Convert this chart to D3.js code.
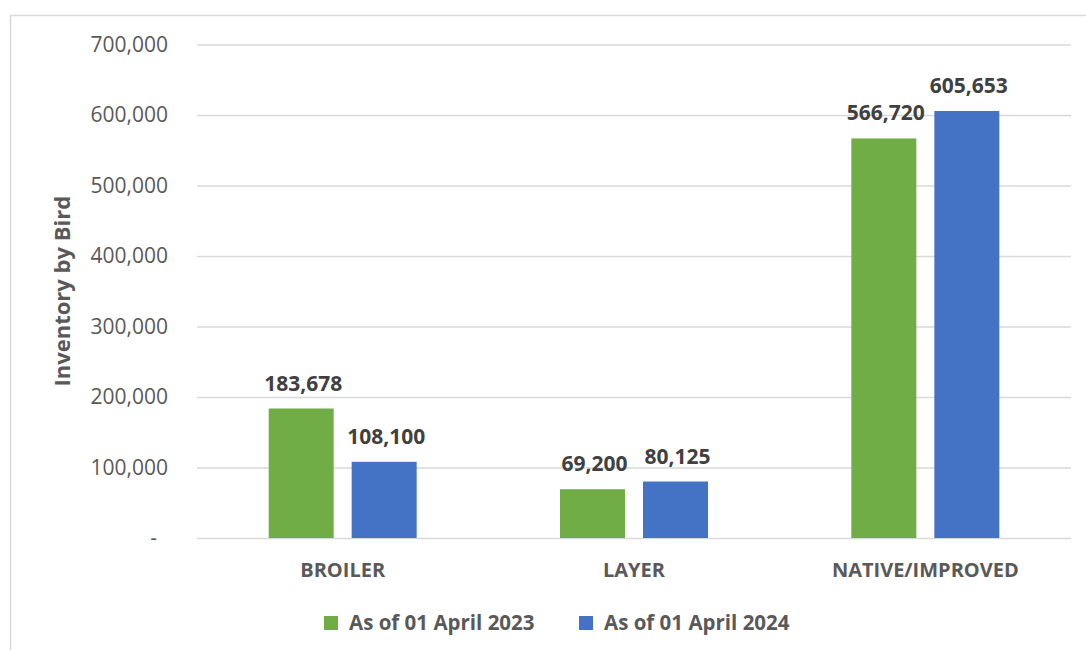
<!DOCTYPE html>
<html lang="en">
<head>
    <meta charset="utf-8">
    <title>Inventory by Bird</title>
    <script src="https://d3js.org/d3.v7.min.js"></script>
    <style>
        body{
            margin: 0;
            background: #fff;
        }
        svg{
            display: block;
            font-family: "Open Sans", sans-serif;
        }
        .tick text{
            fill: #595959;
            font-family: "Open Sans", sans-serif;
            font-size: 21px;
        }
        .tick line{
            stroke: #d9d9d9;
            stroke-width: 1.5;
        }
        .cat{
            fill: #595959;
            font-size: 20px;
            font-weight: bold;
        }
        .val{
            fill: #404040;
            font-size: 21px;
            font-weight: bold;
        }
    </style>
</head>
<body>
<svg id="chart" width="1086" height="650"></svg>
<script>

    var categories = ["BROILER", "LAYER", "NATIVE/IMPROVED"];
    var seriesNames = ["As of 01 April 2023", "As of 01 April 2024"];
    var values2023 = [183678, 69200, 566720];
    var values2024 = [108100, 80125, 605653];
    var yTicks = [0, 100000, 200000, 300000, 400000, 500000, 600000, 700000];
    var colors = ["#70ad47", "#4472c4"];

    var svg = d3.select("#chart");

    // chart frame (right and bottom edges run off the picture)
    svg.append("rect")
        .attr("x", 10.5).attr("y", 15.5)
        .attr("width", 1200).attr("height", 800)
        .attr("fill", "none")
        .attr("stroke", "#d9d9d9")
        .attr("stroke-width", 1.5);

    var plotLeft = 197, plotRight = 1071, plotTop = 44.5, plotBottom = 538;

    var y = d3.scaleLinear()
        .domain([0, 700000])
        .range([plotBottom, plotTop]);

    var x0 = d3.scaleBand()
        .domain(categories)
        .range([plotLeft, plotRight])
        .padding(0);

    var half = 74;
    var x1 = d3.scaleBand()
        .domain(seriesNames)
        .range([x0.bandwidth() / 2 - half, x0.bandwidth() / 2 + half])
        .paddingInner(0.217)
        .paddingOuter(0);

    var fmt = d3.format(",");

    var yAxis = d3.axisLeft(y)
        .tickValues(yTicks)
        .tickSize(-(plotRight - plotLeft))
        .tickPadding(29)
        .tickFormat(d => d === 0 ? "-" : fmt(d));

    var gy = svg.append("g")
        .attr("transform", "translate(" + plotLeft + ",0)")
        .call(yAxis);
    gy.attr("font-family", null);
    gy.select(".domain").remove();
    gy.selectAll(".tick text")
        .attr("dx", d => d === 0 ? -11 : 0);

    var rows = categories.map(function(c, i) {
        return {cat: c, vals: [values2023[i], values2024[i]]};
    });

    var groups = svg.append("g")
        .selectAll("g")
        .data(rows)
        .enter()
        .append("g")
        .attr("transform", d => "translate(" + x0(d.cat) + ",0)");

    groups.selectAll("rect")
        .data(d => d.vals.map((v, j) => ({s: seriesNames[j], v: v, j: j})))
        .enter()
        .append("rect")
        .attr("x", d => x1(d.s))
        .attr("y", d => y(d.v))
        .attr("width", x1.bandwidth())
        .attr("height", d => y(0) - y(d.v))
        .attr("fill", d => colors[d.j]);

    groups.selectAll("text.val")
        .data(d => d.vals.map((v, j) => ({s: seriesNames[j], v: v, j: j})))
        .enter()
        .append("text")
        .attr("class", "val")
        .attr("text-anchor", "middle")
        .attr("x", d => x1(d.s) + x1.bandwidth() / 2 + 2)
        .attr("y", d => y(d.v) - 18)
        .text(d => fmt(d.v));

    svg.append("g")
        .selectAll("text")
        .data(categories)
        .enter()
        .append("text")
        .attr("class", "cat")
        .attr("text-anchor", "middle")
        .attr("x", d => x0(d) + x0.bandwidth() / 2)
        .attr("y", 577)
        .text(d => d);

    // y axis title
    svg.append("text")
        .attr("transform", "translate(70," + ((plotTop + plotBottom) / 2) + ") rotate(-90)")
        .attr("text-anchor", "middle")
        .attr("fill", "#595959")
        .style("font-size", "22px")
        .style("font-weight", "bold")
        .text("Inventory by Bird");

    // legend
    var legendX = [324, 579];
    var legend = svg.append("g")
        .selectAll("g")
        .data(seriesNames)
        .enter()
        .append("g")
        .attr("transform", (d, i) => "translate(" + legendX[i] + ",616)");
    legend.append("rect")
        .attr("width", 14).attr("height", 14)
        .attr("fill", (d, i) => colors[i]);
    legend.append("text")
        .attr("x", 25).attr("y", 14)
        .attr("fill", "#595959")
        .style("font-size", "20.5px")
        .style("font-weight", "bold")
        .text(d => d);

</script>
</body>
</html>
